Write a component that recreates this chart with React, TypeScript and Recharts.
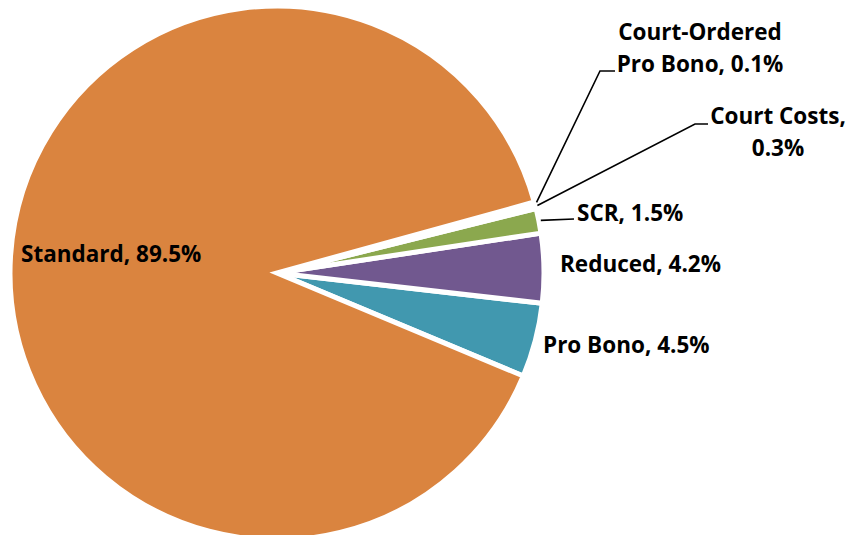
import React from 'react';
import { PieChart, Pie, Cell } from 'recharts';

const categories = ['Pro Bono', 'Reduced', 'SCR', 'Court Costs', 'Court-Ordered Pro Bono', 'Standard'];
const shares = [4.5, 4.2, 1.5, 0.3, 0.1, 89.5];
const colors = ['#4198AF', '#71588F', '#8BA84E', '#4F81BD', '#C0504D', '#DA843F'];
const labelLines = [
  ['Pro Bono, 4.5%'],
  ['Reduced, 4.2%'],
  ['SCR, 1.5%'],
  ['Court Costs,', '0.3%'],
  ['Court-Ordered', 'Pro Bono, 0.1%'],
  ['Standard, 89.5%'],
];

const data = categories.map((name, i) => ({ name, value: shares[i] }));

// label layout relative to pie centre
const labelLayout: { anchor: 'start' | 'middle'; dx: number; dy: number; leader?: number[][] }[] = [
  { anchor: 'start', dx: 266, dy: 80 },
  { anchor: 'start', dx: 283, dy: -1 },
  { anchor: 'start', dx: 300, dy: -52, leader: [[297, -54]] },
  { anchor: 'middle', dx: 501, dy: -149, leader: [[418, -149], [431, -149]] },
  { anchor: 'middle', dx: 423, dy: -233, leader: [[323, -202], [338, -202]] },
  { anchor: 'start', dx: -256, dy: -11 },
];

const RAD = Math.PI / 180;
const LINE_H = 32;

const renderLabel = (props: any) => {
  const { cx, cy, midAngle, outerRadius, index } = props;
  const lay = labelLayout[index];
  const lines = labelLines[index];
  let leader = null;
  if (lay.leader) {
    const r = outerRadius + 2;
    const sx = cx + r * Math.cos(-midAngle * RAD);
    const sy = cy + r * Math.sin(-midAngle * RAD);
    const pts = [[sx, sy], ...lay.leader.map(([x, y]) => [cx + x, cy + y])];
    leader = (
      <polyline
        points={pts.map((p) => p.join(',')).join(' ')}
        fill="none"
        stroke="#000"
        strokeWidth={1.6}
      />
    );
  }
  return (
    <g key={`lbl-${index}`}>
      {leader}
      <text
        x={cx + lay.dx}
        y={cy + lay.dy}
        textAnchor={lay.anchor}
        fontFamily="'Open Sans', Lato, sans-serif"
        fontWeight={700}
        fontSize={22.5}
        fill="#000"
      >
        {lines.map((t, i) => (
          <tspan key={i} x={cx + lay.dx} y={cy + lay.dy + i * LINE_H}>
            {t}
          </tspan>
        ))}
      </text>
    </g>
  );
};

export default function App() {
  return (
    <div style={{ position: 'absolute', left: 0, top: 0, width: 851, height: 535, background: '#fff' }}>
      <PieChart width={851} height={535} margin={{ top: 0, right: 0, bottom: 0, left: 0 }}>
        <Pie
          data={data}
          dataKey="value"
          nameKey="name"
          cx={277}
          cy={273}
          outerRadius={267}
          startAngle={-22.7}
          endAngle={337.3}
          stroke="#fff"
          strokeWidth={5}
          label={renderLabel}
          labelLine={false}
          isAnimationActive={false}
        >
          {data.map((d, i) => (
            <Cell key={d.name} fill={colors[i]} />
          ))}
        </Pie>
      </PieChart>
    </div>
  );
}
